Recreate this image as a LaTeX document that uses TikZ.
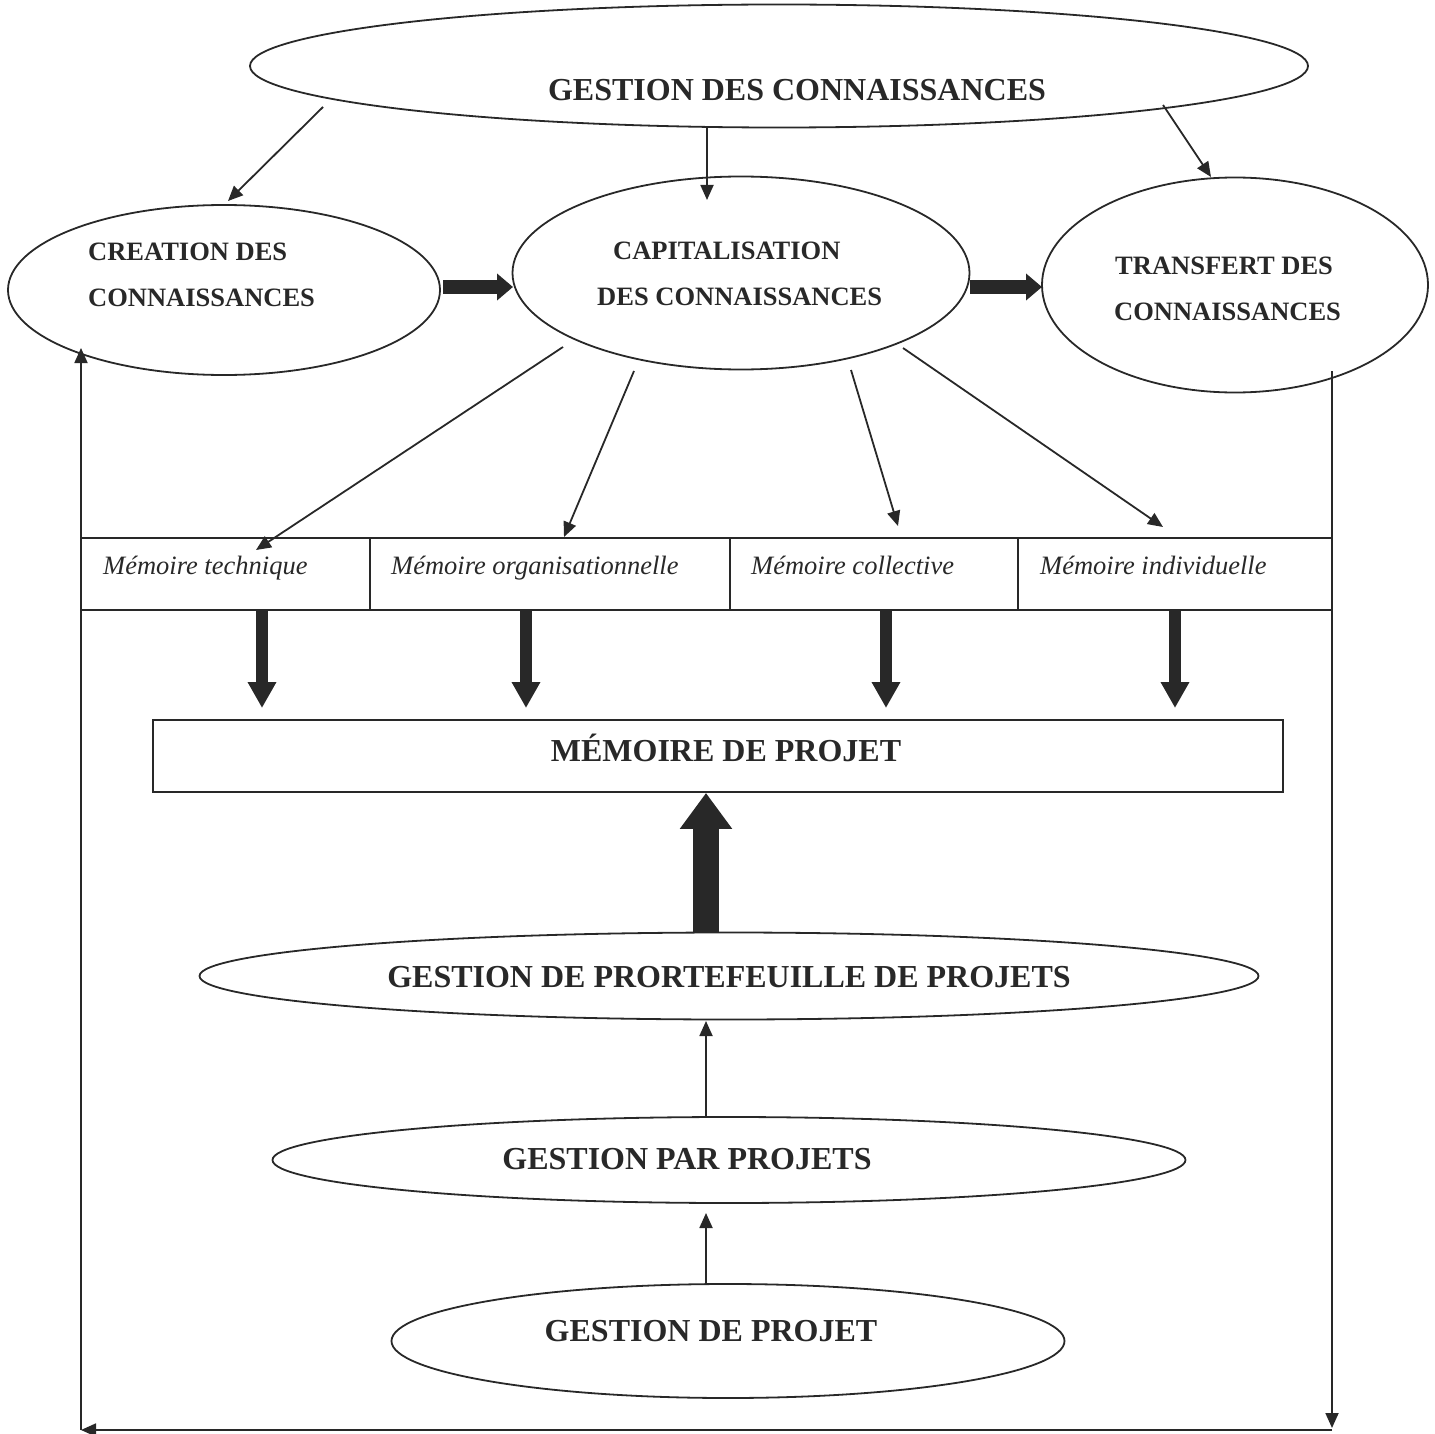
\documentclass[tikz,border=0pt]{standalone}
\usepackage{fontspec}
\setmainfont{Liberation Serif}
\usetikzlibrary{arrows.meta,shapes.geometric,calc}
\definecolor{ink}{RGB}{40,40,40}
\begin{document}
\begin{tikzpicture}[x=1pt,y=-1pt,
  ell/.style={draw=ink, ellipse, line width=1.8pt, inner sep=0pt},
  cell/.style={draw=ink, rectangle, line width=1.8pt, inner sep=0pt},
  thinarrow/.style={draw=ink, line width=1.8pt, -{Triangle[length=15pt,width=13pt]}},
  fatdown/.style={draw=ink, line width=12pt, -{Triangle[length=26pt,width=27pt]}},
  fatright/.style={draw=ink, line width=14pt, -{Triangle[length=16pt,width=26pt]}},
  bigup/.style={draw=ink, line width=26pt, -{Triangle[length=36pt,width=50pt]}},
  big/.style={text=ink, font=\fontsize{32}{38}\selectfont\bfseries, inner sep=0pt, anchor=base},
  mid/.style={text=ink, font=\fontsize{26.5}{32}\selectfont\bfseries, inner sep=0pt, anchor=base west},
  mem/.style={text=ink, font=\fontsize{26.5}{32}\selectfont\itshape, inner sep=0pt, anchor=base west}]
\useasboundingbox (0,0) rectangle (1435,1434);

% ellipses
\node[ell, minimum width=1058pt, minimum height=123pt] (gc) at (779,66) {};
\node[ell, minimum width=432pt, minimum height=170pt] (cre) at (224,290) {};
\node[ell, minimum width=457pt, minimum height=193pt] (cap) at (741,273) {};
\node[ell, minimum width=386pt, minimum height=215pt] (tra) at (1235,285) {};
\node[ell, minimum width=1059pt, minimum height=87pt] (gpf) at (729,976) {};
\node[ell, minimum width=913pt, minimum height=86pt] (gpp) at (729,1160) {};
\node[ell, minimum width=673pt, minimum height=114pt] (gdp) at (728,1341) {};

% texts
\node[big] (tgc) at (797,101) {GESTION DES CONNAISSANCES};
\node[mid] (tcre1) at (88,260) {CREATION DES};
\node[mid] (tcre2) at (88,306) {CONNAISSANCES};
\node[mid] (tcap1) at (613,259) {CAPITALISATION};
\node[mid] (tcap2) at (597,305) {DES CONNAISSANCES};
\node[mid] (ttra1) at (1115,274) {TRANSFERT DES};
\node[mid] (ttra2) at (1114,320) {CONNAISSANCES};

% memory row
\node[cell, minimum width=289pt, minimum height=72pt] (m1) at (225.5,574) {};
\node[cell, minimum width=360pt, minimum height=72pt] (m2) at (550,574) {};
\node[cell, minimum width=288pt, minimum height=72pt] (m3) at (874,574) {};
\node[cell, minimum width=314pt, minimum height=72pt] (m4) at (1175,574) {};
\node[mem] (tm1) at (103,574) {Mémoire technique};
\node[mem] (tm2) at (391,574) {Mémoire organisationnelle};
\node[mem] (tm3) at (751,574) {Mémoire collective};
\node[mem] (tm4) at (1040,574) {Mémoire individuelle};

% memoire de projet
\node[cell, minimum width=1130pt, minimum height=72pt] (mp) at (718,756) {};
\node[big] (tmp) at (726,761) {MÉMOIRE DE PROJET};
\node[big] (tgpf) at (729,987) {GESTION DE PRORTEFEUILLE DE PROJETS};
\node[big] (tgpp) at (687,1169) {GESTION PAR PROJETS};
\node[big] (tgdp) at (711,1341) {GESTION DE PROJET};

% coordinates for connectors
\coordinate (a1s) at (323,107); \coordinate (a1e) at (228,201);
\coordinate (a2s) at (707,128); \coordinate (a2e) at (707,200);
\coordinate (a3s) at (1163,105); \coordinate (a3e) at (1211,177);
\coordinate (b1s) at (563,347); \coordinate (b1e) at (256,550);
\coordinate (b2s) at (634,371); \coordinate (b2e) at (564,537);
\coordinate (b3s) at (851,370); \coordinate (b3e) at (898,526);
\coordinate (b4s) at (903,348); \coordinate (b4e) at (1163,527);
\coordinate (h1s) at (443,287); \coordinate (h1e) at (513,287);
\coordinate (h2s) at (970,287); \coordinate (h2e) at (1042,287);
\coordinate (rtop) at (1332,371);
\coordinate (rarr) at (1332,1428);
\coordinate (rbot) at (1332,1430);
\coordinate (lbot) at (81,1430);
\coordinate (ltop) at (81,348);

\draw[thinarrow] (a1s) -- (a1e);
\draw[thinarrow] (a2s) -- (a2e);
\draw[thinarrow] (a3s) -- (a3e);
\draw[thinarrow] (b1s) -- (b1e);
\draw[thinarrow] (b2s) -- (b2e);
\draw[thinarrow] (b3s) -- (b3e);
\draw[thinarrow] (b4s) -- (b4e);

% thick horizontal arrows
\draw[fatright] (h1s) -- (h1e);
\draw[fatright] (h2s) -- (h2e);

% thick down arrows
\foreach \x in {262,526,886,1175}{
  \draw[fatdown] (\x,611) -- (\x,708);
}
% big up arrow
\draw[bigup] (gpf.north -| 706,0) -- (mp.south -| 706,0);

% thin up arrows
\draw[thinarrow] (gpp.north -| 706,0) -- (706,1021);
\draw[thinarrow] (gdp.north -| 706,0) -- (706,1213);

% loop
\draw[thinarrow] (rtop) -- (rarr);
\draw[thinarrow] (rbot) -- (lbot);
\draw[thinarrow] (lbot) -- (ltop);
\end{tikzpicture}
\end{document}
